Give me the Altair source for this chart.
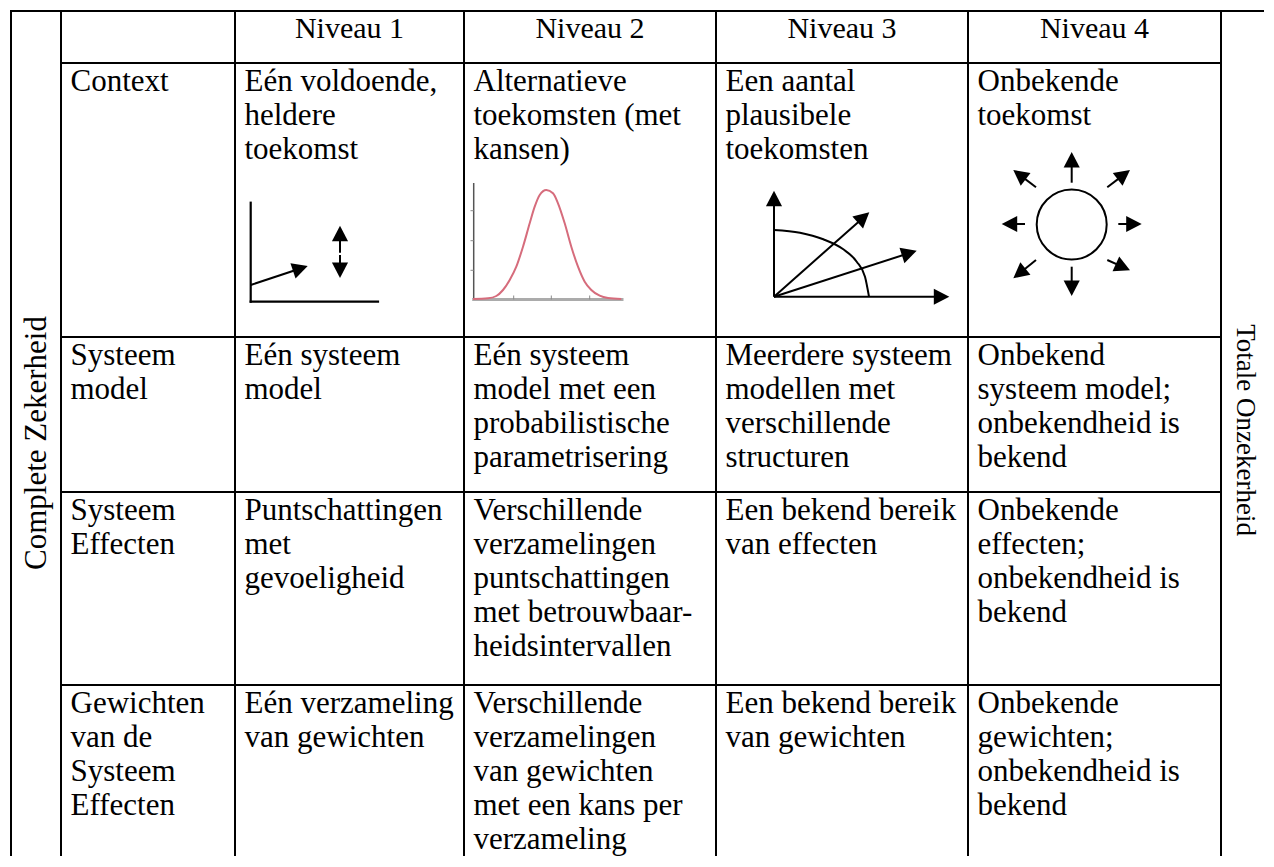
import math
import altair as alt
import pandas as pd

# ---------------- canvas ----------------
W, H = 1256, 848
X0, Y0 = 8, 8

# ---------------- table content ----------------
col_lines = [11, 61, 235, 464, 716, 968, 1221]
row_lines = [63, 337, 492, 685]
top_line = 11

headers = ["Niveau 1", "Niveau 2", "Niveau 3", "Niveau 4"]

row_labels = [
    ["Context"],
    ["Systeem", "model"],
    ["Systeem", "Effecten"],
    ["Gewichten", "van de", "Systeem", "Effecten"],
]
niveau1 = [
    ["Eén voldoende,", "heldere", "toekomst"],
    ["Eén systeem", "model"],
    ["Puntschattingen", "met", "gevoeligheid"],
    ["Eén verzameling", "van gewichten"],
]
niveau2 = [
    ["Alternatieve", "toekomsten (met", "kansen)"],
    ["Eén systeem", "model met een", "probabilistische", "parametrisering"],
    ["Verschillende", "verzamelingen", "puntschattingen", "met betrouwbaar-", "heidsintervallen"],
    ["Verschillende", "verzamelingen", "van gewichten", "met een kans per", "verzameling"],
]
niveau3 = [
    ["Een aantal", "plausibele", "toekomsten"],
    ["Meerdere systeem", "modellen met", "verschillende", "structuren"],
    ["Een bekend bereik", "van effecten"],
    ["Een bekend bereik", "van gewichten"],
]
niveau4 = [
    ["Onbekende", "toekomst"],
    ["Onbekend", "systeem model;", "onbekendheid is", "bekend"],
    ["Onbekende", "effecten;", "onbekendheid is", "bekend"],
    ["Onbekende", "gewichten;", "onbekendheid is", "bekend"],
]
left_title = "Complete Zekerheid"
right_title = "Totale Onzekerheid"

# ---------------- diagrams ----------------
# Niveau 1: axes + one arrow + vertical double arrow
n1_axes = [(250.7, 202.7, 250.7, 301.7), (250.7, 301.7, 378, 301.7)]
n1_arrows = [(250.7, 285, 307.7, 266), (340, 252.7, 340, 225.7), (340, 255, 340, 278)]

# Niveau 2: bell curve with axes
n2_curve_x = [473, 488, 496.3, 503, 509.7, 516.3, 523, 529.7, 534.7, 539.7, 546.3,
              553, 558, 564.7, 571.3, 578, 584.7, 591.3, 599.7, 608, 621.3]
n2_curve_y = [299, 298.3, 296, 290, 280, 266.7, 246.7, 223.3, 206.7, 195, 190,
              193.3, 203.3, 223.3, 246.7, 266.7, 281.7, 290, 295.7, 298, 299]
n2_left_axis = [(473.7, 183, 473.7, 299.5)]
n2_left_ticks = [(470.5, 210.7, 473.7, 210.7), (470.5, 240.7, 473.7, 240.7), (470.5, 270.3, 473.7, 270.3)]
n2_bottom_axis = [(473.7, 299.5, 622, 299.5)]
n2_bottom_ticks = [(513.7, 296, 513.7, 299), (551.3, 296, 551.3, 299), (589.7, 296, 589.7, 299)]

# Niveau 3: axes with arrows, two arrows, quarter arc
n3_arrows = [(774, 296.7, 774, 190.7), (774, 296.7, 949.3, 296.7),
             (774, 296.7, 869.3, 212.3), (774, 296.7, 916.7, 250.7)]
n3_arc_x = [774, 800, 823.3, 843.3, 856.7, 865, 869]
n3_arc_y = [230, 232.7, 239.3, 249.3, 261.7, 276.7, 296.7]

# Niveau 4: circle with eight arrows
n4_circle = [(1071.7, 224.5)]
n4_arrows = [(1071.7, 182.7, 1071.7, 152), (1071.7, 266.7, 1071.7, 296),
             (1025, 224, 1001.7, 224), (1118.3, 224, 1141.7, 224),
             (1036, 187.3, 1013.3, 170), (1107.3, 187.3, 1130, 170),
             (1036, 260, 1013.3, 278.3), (1107.3, 260, 1130, 270.3)]

# ---------------- scales ----------------
xs = alt.Scale(domain=[X0, X0 + W], range=[0, W], nice=False, zero=False)
ys = alt.Scale(domain=[Y0, Y0 + H], range=[0, H], nice=False, zero=False)
FONT = "Liberation Serif"
FS = 31
LINE_H = 34
FIRST = 28


def seg_df(segs):
    return pd.DataFrame(segs, columns=["x", "y", "x2", "y2"])


def rule_layer(df, color="black", width=2.0, cap="square"):
    return alt.Chart(df).mark_rule(color=color, strokeWidth=width, strokeCap=cap).encode(
        x=alt.X("x:Q", scale=xs, axis=None),
        y=alt.Y("y:Q", scale=ys, axis=None),
        x2="x2:Q",
        y2="y2:Q",
    )


HEAD = "M0,0L-0.52,1L0.52,1Z"
HEAD_LEN = 15.5


def arrow_layers(arrows):
    shafts, tips = [], []
    for (x1, y1, x2, y2) in arrows:
        dx, dy = x2 - x1, y2 - y1
        L = math.hypot(dx, dy)
        ux, uy = dx / L, dy / L
        back = min(HEAD_LEN * 0.6, L)
        shafts.append((x1, y1, x2 - ux * back, y2 - uy * back))
        tips.append({"x": x2, "y": y2, "ang": math.degrees(math.atan2(dx, -dy)) % 360})
    shaft = rule_layer(seg_df(shafts), width=2.0, cap="butt")
    head = alt.Chart(pd.DataFrame(tips)).mark_point(
        shape=HEAD, filled=True, color="black", opacity=1, size=(2 * HEAD_LEN) ** 2, strokeWidth=0
    ).encode(
        x=alt.X("x:Q", scale=xs, axis=None),
        y=alt.Y("y:Q", scale=ys, axis=None),
        angle=alt.Angle("ang:Q", scale=None),
    )
    return [shaft, head]


layers = []

# grid
grid = [(col_lines[0], top_line, X0 + W, top_line)]
for r in row_lines:
    grid.append((col_lines[1], r, col_lines[-1], r))
for c in col_lines:
    grid.append((c, top_line, c, Y0 + H + 2))
layers.append(rule_layer(seg_df(grid)))

# cell texts
rows_top = row_lines
cells = []
for ci, col in enumerate([row_labels, niveau1, niveau2, niveau3, niveau4]):
    x_left = col_lines[ci + 1] + 9.5
    for ri, lines in enumerate(col):
        for li, t in enumerate(lines):
            cells.append({"x": x_left, "y": rows_top[ri] + FIRST + li * LINE_H, "t": t})
layers.append(
    alt.Chart(pd.DataFrame(cells)).mark_text(
        align="left", baseline="alphabetic", font=FONT, fontSize=FS, color="black"
    ).encode(x=alt.X("x:Q", scale=xs, axis=None), y=alt.Y("y:Q", scale=ys, axis=None), text="t:N")
)

# headers
hdr = [{"x": (col_lines[i + 2] + col_lines[i + 3]) / 2, "y": top_line + 27, "t": h} for i, h in enumerate(headers)]
layers.append(
    alt.Chart(pd.DataFrame(hdr)).mark_text(
        align="center", baseline="alphabetic", font=FONT, fontSize=30, color="black"
    ).encode(x=alt.X("x:Q", scale=xs, axis=None), y=alt.Y("y:Q", scale=ys, axis=None), text="t:N")
)

# side titles
layers.append(
    alt.Chart(pd.DataFrame([{"x": 37, "y": 443, "t": left_title}])).mark_text(
        align="center", baseline="middle", angle=270, font=FONT, fontSize=31, color="black"
    ).encode(x=alt.X("x:Q", scale=xs, axis=None), y=alt.Y("y:Q", scale=ys, axis=None), text="t:N")
)
layers.append(
    alt.Chart(pd.DataFrame([{"x": 1245, "y": 430, "t": right_title}])).mark_text(
        align="center", baseline="middle", angle=90, font=FONT, fontSize=27, color="black"
    ).encode(x=alt.X("x:Q", scale=xs, axis=None), y=alt.Y("y:Q", scale=ys, axis=None), text="t:N")
)

# Niveau 1 diagram
layers.append(rule_layer(seg_df(n1_axes), width=2.2))
layers += arrow_layers(n1_arrows)

# Niveau 2 diagram
layers.append(rule_layer(seg_df(n2_bottom_axis), color="#ababab", width=3))
layers.append(rule_layer(seg_df(n2_bottom_ticks), color="#8a8a8a", width=1))
layers.append(rule_layer(seg_df(n2_left_axis), color="#555555", width=1.5, cap="butt"))
layers.append(rule_layer(seg_df(n2_left_ticks), color="#8a8a8a", width=1, cap="butt"))
curve = pd.DataFrame({"x": n2_curve_x, "y": n2_curve_y, "i": range(len(n2_curve_x))})
layers.append(
    alt.Chart(curve).mark_line(color="#d66c7c", strokeWidth=2, interpolate="monotone").encode(
        x=alt.X("x:Q", scale=xs, axis=None), y=alt.Y("y:Q", scale=ys, axis=None), order="i:Q"
    )
)

# Niveau 3 diagram
arc = pd.DataFrame({"x": n3_arc_x, "y": n3_arc_y, "i": range(len(n3_arc_x))})
layers.append(
    alt.Chart(arc).mark_line(color="black", strokeWidth=2, interpolate="monotone").encode(
        x=alt.X("x:Q", scale=xs, axis=None), y=alt.Y("y:Q", scale=ys, axis=None), order="i:Q"
    )
)
layers += arrow_layers(n3_arrows)

# Niveau 4 diagram
layers.append(
    alt.Chart(pd.DataFrame(n4_circle, columns=["x", "y"])).mark_point(
        shape="circle", filled=False, color="black", strokeWidth=2, size=70 ** 2, opacity=1
    ).encode(x=alt.X("x:Q", scale=xs, axis=None), y=alt.Y("y:Q", scale=ys, axis=None))
)
layers += arrow_layers(n4_arrows)

chart = alt.layer(*layers).properties(
    width=W, height=H, padding=0, autosize=alt.AutoSizeParams(type="none"), background="white"
).configure_view(stroke=None)

chart.save("out.html", embed_options={"renderer": "svg", "actions": False})
